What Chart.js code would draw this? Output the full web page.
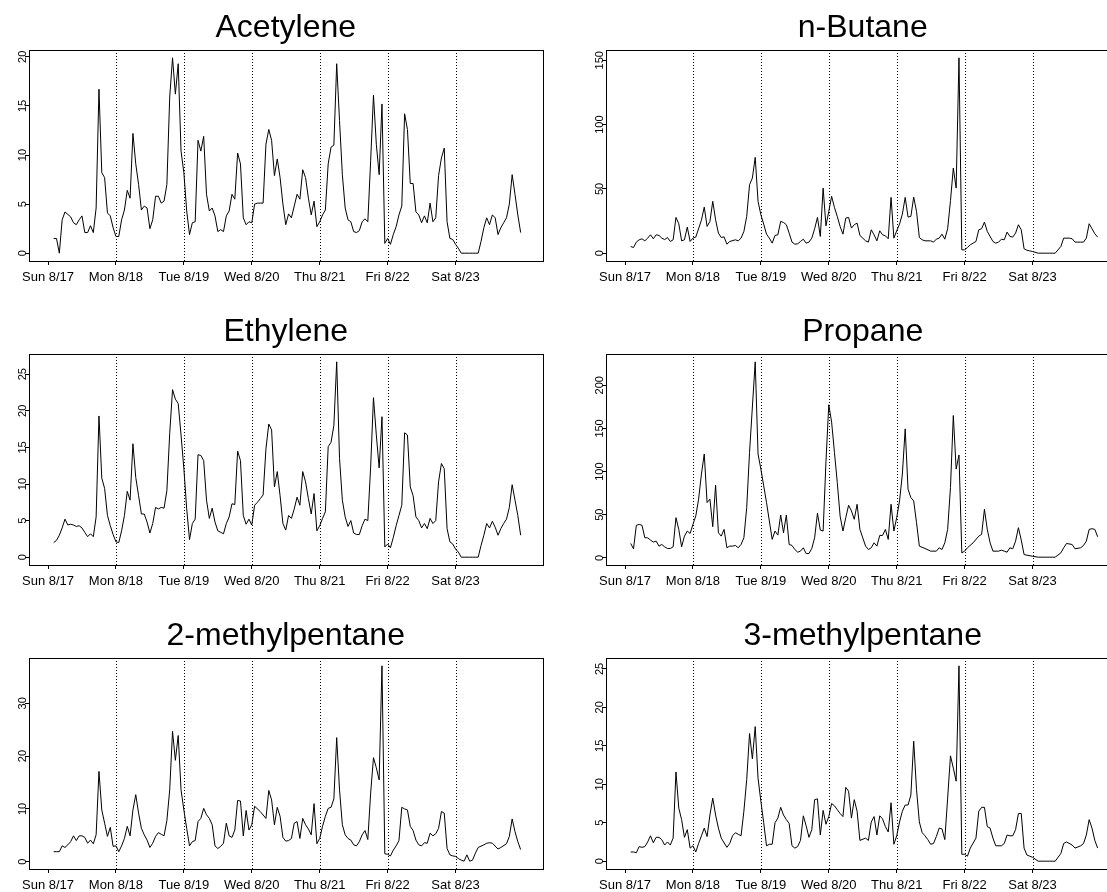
<!DOCTYPE html>
<html>
<head>
<meta charset="utf-8">
<script src="https://cdn.jsdelivr.net/npm/chart.js@4.4.1/dist/chart.umd.min.js"></script>
<style>
  html, body { margin: 0; padding: 0; background: #fff; }
  body { width: 1107px; height: 892px; overflow: hidden; position: relative; }
  .panel { position: absolute; width: 576px; height: 304px; }
</style>
</head>
<body>
<div class="panel" style="left:0;top:0"><canvas id="c0" width="576" height="304"></canvas></div>
<div class="panel" style="left:577px;top:0"><canvas id="c1" width="576" height="304"></canvas></div>
<div class="panel" style="left:0;top:304px"><canvas id="c2" width="576" height="304"></canvas></div>
<div class="panel" style="left:577px;top:304px"><canvas id="c3" width="576" height="304"></canvas></div>
<div class="panel" style="left:0;top:608px"><canvas id="c4" width="576" height="304"></canvas></div>
<div class="panel" style="left:577px;top:608px"><canvas id="c5" width="576" height="304"></canvas></div>
<script>
// hours since Sun 8/17 00:00, one reading per hour (index = hour)
const hourSpan = [0, 168];
const dayTicks = [0, 24, 48, 72, 96, 120, 144];
const dayLabels = ['Sun 8/17', 'Mon 8/18', 'Tue 8/19', 'Wed 8/20', 'Thu 8/21', 'Fri 8/22', 'Sat 8/23'];
const dayLines = [24, 48, 72, 96, 120, 144];

const acetylene = [
  null, null, 1.5, 1.5, 0, 3.4, 4.2, null, 3.7, 3.1,
  2.9, 3.4, 3.8, 2.1, 2.1, 2.8, 2.1, 4.6, 16.7, 8.2,
  7.7, 4.1, 3.8, 2.6, 1.7, 1.7, 3.4, 4.4, 6.4, 5.6,
  12.2, 9.1, 7.0, 4.4, 4.8, 4.6, 2.5, 3.4, 5.8, 5.8,
  5.1, 5.3, 7.0, 15.9, 19.9, 16.2, 19.3, 10.4, 8.2, 4.3,
  1.9, 3.1, 3.2, 11.5, 10.4, 11.9, 6.0, 4.3, 4.6, 3.8,
  2.2, 2.4, 2.2, 3.8, 4.3, 6.0, 5.5, 10.2, 9.1, 3.6,
  2.9, 3.2, 3.1, 5.0, 5.1, 5.1, 5.1, 11.1, 12.6, 11.5,
  7.9, 9.6, 7.7, 5.0, 2.9, 4.0, 3.6, 4.8, 6.0, 5.5,
  8.5, 7.7, 5.6, 3.9, 5.3, 2.7, 3.2, 3.9, 4.4, 9.1,
  10.8, 11.0, 19.3, 13.5, 8.0, 4.6, 3.4, 3.2, 2.2, 2.1,
  2.3, 3.2, 3.5, 3.2, 9.4, 16.1, 11.1, 8.0, 15.2, 1.0,
  1.5, 0.9, 1.9, 2.7, 3.9, 4.8, 14.2, 12.6, 7.1, 7.1,
  4.2, 3.9, 3.1, 3.8, 3.1, 5.1, 3.2, 3.6, 7.9, 9.7,
  10.7, 3.2, 1.5, 1.4, 0.9, 0.5, 0, 0, 0, 0,
  0, 0, 0, 1.2, 2.6, 3.6, 2.9, 3.9, 3.6, 1.9,
  2.6, 3.1, 3.6, 5.0, 8.0, 6.0, 3.9, 2.1
];
const nButane = [
  null, null, 5.2, 4.4, 8.6, 10.4, 11.2, 9.6, 11.7, 14.3,
  11.2, 14.3, 13.8, 11.7, 10.6, 12.2, 9.1, 10.4, 27.8, 22.9,
  9.6, 10.4, 20.3, 9.1, 11.7, 12.5, null, 25.7, 35.8, 20.8,
  24.7, 40.3, 26.0, 15.6, 12.2, 12.7, 7.0, 9.1, null, 10.4,
  9.6, 11.7, 16.9, 28.6, 53.2, 58.4, 74.5, 40.3, 29.9, 22.6,
  14.8, 11.7, 7.8, 13.8, 14.3, 24.7, 23.9, 22.1, 15.6, 8.6,
  7.0, 7.3, 9.1, 10.9, 7.8, 8.6, 11.7, 19.0, 27.8, 13.0,
  50.6, 21.3, 32.5, 44.2, 35.6, 28.6, 20.8, 14.8, 27.3, 27.8,
  19.5, 22.1, 23.4, 13.8, null, 9.6, 8.6, 18.2, 14.3, 9.6,
  17.4, 14.3, 13.5, 11.2, 43.4, 11.7, 17.4, 22.6, 30.4, 43.4,
  28.1, 28.6, 43.6, 32.5, 12.2, 10.4, 9.6, null, 9.6, 8.6,
  10.9, 11.7, 14.8, 10.9, 19.0, 40.8, 66.2, 50.6, 151.9, 2.6,
  2.6, 4.4, 6.5, null, 9.1, 18.2, 19.0, 24.2, 16.9, null,
  9.1, 7.8, 8.6, 10.9, 10.4, 16.4, 13.0, 12.5, 15.6, 22.1,
  18.2, 3.4, 2.3, 1.8, 1.3, null, 0, 0, 0, 0,
  0, 0, 0, null, 5.2, 11.7, null, 11.7, 11.2, 8.6,
  8.6, 8.6, 8.6, 11.7, 22.9, 19.0, 15.1, 12.5
];
const ethylene = [
  null, null, 2.0, 2.3, 3.0, 4.0, 5.2, 4.4, 4.5, 4.4,
  4.2, 4.3, 4.0, 3.4, 2.8, 3.2, 2.8, 5.5, 19.3, 10.8,
  9.4, 5.7, 4.3, 3.1, 2.1, 2.0, 3.6, 5.7, 9.0, 7.8,
  15.5, 10.9, 8.4, 5.9, 5.9, 4.8, 3.3, 4.6, 6.8, 6.6,
  6.8, 6.7, 9.1, 16.9, 22.9, 21.6, 21.0, 16.7, 12.1, 6.6,
  2.4, 4.6, 5.2, 14.0, 13.9, 13.2, 7.8, 5.3, 6.7, 4.8,
  3.6, 3.4, 3.2, 4.6, 5.5, 7.3, 7.2, 14.5, 13.2, 5.7,
  4.5, 5.2, 4.4, 7.1, 7.5, 8.0, 8.5, 14.8, 18.2, 17.4,
  9.6, 11.7, 8.4, 4.6, 3.7, 5.7, 5.3, 6.6, 8.2, 7.1,
  11.7, 10.3, 8.0, 5.9, 8.7, 3.6, 4.3, 5.3, 6.2, 15.1,
  15.7, 18.0, 26.7, 13.5, 7.8, 5.5, 4.2, 5.0, 3.3, 3.1,
  3.1, 4.3, 5.2, 5.0, 12.3, 21.8, 16.7, 12.2, 19.2, 1.4,
  1.8, 1.3, 2.7, 4.3, 5.7, 7.1, 17.0, 16.7, 9.6, 8.4,
  5.5, 5.0, 4.0, 4.6, 3.9, 5.3, 4.6, 5.0, 10.3, 12.8,
  12.1, 3.9, 2.1, 1.8, 1.1, 0.7, 0, 0, 0, 0,
  0, 0, 0, 1.6, 3.0, 4.6, 4.0, 4.9, 4.1, 3.0,
  3.9, 4.6, 5.2, 6.8, 9.9, 7.8, 5.7, 3.0
];
const propane = [
  null, null, 16.7, 10.5, 37.7, 38.8, 37.7, 23.3, 23.3, 20.6,
  18.3, 19.4, 13.6, 15.5, 12.8, 10.9, 10.9, 12.8, 46.6, 33.0,
  12.8, 25.2, 31.1, 28.3, 38.8, 48.5, 68.0, 97.1, 120.4, 64.1,
  68.0, 36.1, 84.3, 29.1, 25.2, 33.0, 11.7, 13.6, 13.6, 14.4,
  11.7, 15.5, 23.3, 58.3, 122.3, null, 227.2, 120.4, 102.9, 83.5,
  64.1, 42.7, 21.4, 31.1, 26.4, 49.7, 29.1, 49.7, 15.5, 14.4,
  9.7, 6.6, 7.8, 11.7, 5.0, 5.0, 10.9, 23.3, 51.7, 32.2,
  31.1, 111.5, 177.5, 157.3, 122.3, 87.4, 48.5, 31.1, 46.6, 61.0,
  54.4, 44.7, 62.1, 33.0, null, 13.6, 9.7, 11.7, 17.5, 13.6,
  26.0, 26.0, 33.0, 21.4, 62.1, 31.1, 46.6, 66.0, 97.1, 149.5,
  79.6, 69.9, 66.0, 40.8, 13.6, null, 10.9, null, 7.8, null,
  7.8, 11.7, 9.7, 17.5, 33.0, 81.6, 165.0, 102.9, 119.2, 5.8,
  7.8, 11.7, null, 17.5, null, 25.2, 27.2, 56.3, 33.0, 17.5,
  7.8, null, 7.8, 8.9, 7.8, 6.6, 11.7, 10.5, 19.4, 35.0,
  20.6, 3.9, 3.1, null, 1.9, null, 0.8, 0.8, 0.8, 0.8,
  0.8, 0.8, 0.8, null, 5.8, 11.7, 16.7, null, 15.5, 10.5,
  null, 11.7, 14.4, 19.4, 33.0, 33.8, 33.0, 24.5
];
const methylpentane2 = [
  null, null, 1.9, 1.9, 1.9, 3.0, 2.7, 3.2, 3.8, 4.9,
  4.0, 4.9, 4.9, 4.6, 3.5, 4.1, 3.4, 5.1, 17.1, 9.8,
  7.3, 4.8, 6.5, 2.9, 3.0, 1.9, 3.0, 4.4, 6.7, 4.9,
  9.8, 12.7, 9.2, 6.3, 5.1, 4.1, 2.7, 3.5, 4.8, 5.5,
  5.2, 4.9, 7.8, 13.6, 24.7, 19.2, 23.9, 13.6, 9.8, 6.3,
  3.0, 3.8, 4.0, 7.6, 8.2, 10.1, 8.9, 8.2, 7.0, 3.0,
  2.5, 2.9, 3.5, 7.3, 4.9, 4.6, 6.0, 11.6, 11.5, 4.9,
  9.7, 6.0, 7.0, 10.5, null, 9.5, null, 8.2, 13.5, 11.7,
  7.0, 10.3, 8.6, 4.6, 3.9, 4.0, 4.4, 7.3, 7.6, 4.4,
  8.2, 7.0, 6.2, 5.1, 11.0, 3.4, 4.4, 6.7, 8.6, 10.1,
  10.3, 11.9, 23.5, 13.6, 7.0, 5.1, 4.4, 4.1, 3.2, 3.0,
  3.8, 5.1, 5.9, 4.2, 13.0, 19.7, 17.8, 15.5, 37.1, 1.5,
  1.4, 1.1, 2.2, 3.0, 4.0, 10.3, 10.0, 9.8, 6.7, 5.9,
  4.1, 3.2, 3.0, 3.6, 3.5, 5.4, 4.9, 5.3, 6.3, 9.5,
  9.2, 2.5, 1.3, 1.1, 1.0, 0.6, 0.3, 0.1, 1.3, 0.1,
  0.3, 1.6, 2.7, null, 3.2, 3.5, 3.6, 3.5, null, 2.4,
  2.7, null, 3.4, 4.8, 8.1, 5.7, 3.8, 2.3
];
const methylpentane3 = [
  null, null, 1.2, 1.2, 1.1, 1.9, 1.8, 1.9, 2.5, 3.3,
  2.4, 3.1, 3.1, 2.8, 2.1, 2.5, 2.1, 3.0, 11.6, 6.9,
  5.4, 3.1, 4.1, 1.7, 2.0, 1.2, 2.3, 3.3, 4.3, 3.2,
  6.0, 8.2, 6.0, 4.3, 3.0, null, 1.8, 2.3, 3.3, 3.7,
  3.5, 3.3, 6.5, 10.6, 16.6, 13.3, 17.5, 10.8, 7.8, 5.0,
  2.0, 2.2, 2.2, 5.0, 5.6, 7.0, 6.0, 5.4, 4.9, 2.0,
  1.7, 1.9, 2.7, 5.9, 4.6, 3.1, 4.1, 8.0, 8.1, 3.4,
  6.6, 4.8, 5.8, 7.5, 7.2, 6.7, 6.2, 5.8, 9.6, 9.1,
  5.6, 8.0, 6.5, 2.7, null, 3.0, 2.7, 5.1, 5.8, 3.4,
  5.9, 5.5, 4.5, 3.8, 7.6, 2.2, 3.3, 5.1, 6.5, 7.3,
  7.3, 8.6, 15.6, 9.3, 5.1, 3.7, 3.3, 2.8, 2.2, 2.3,
  3.2, 4.3, 4.2, 2.8, 8.2, 13.7, 12.1, 10.4, 25.4, 0.9,
  0.9, 0.65, 1.7, null, 3.0, 6.5, 7.0, 7.0, 4.5, 4.3,
  3.0, 2.0, null, 2.0, 2.3, 3.4, 3.3, 3.3, 4.1, 6.2,
  6.2, 1.7, 0.8, 0.65, 0.5, null, 0, 0, 0, 0,
  0, 0, 0, null, 1.0, 2.3, 2.5, null, 2.1, 1.7,
  null, 2.0, 2.3, 3.4, 5.4, 4.3, 2.7, 1.7
];

const acetyleneTicks = [0, 5, 10, 15, 20];
const nButaneTicks = [0, 50, 100, 150];
const ethyleneTicks = [0, 5, 10, 15, 20, 25];
const propaneTicks = [0, 50, 100, 150, 200];
const methylpentane2Ticks = [0, 10, 20, 30];
const methylpentane3Ticks = [0, 5, 10, 15, 20, 25];

const panels = [
  { id: 'c0', title: 'Acetylene', values: acetylene, ticks: acetyleneTicks },
  { id: 'c1', title: 'n-Butane', values: nButane, ticks: nButaneTicks },
  { id: 'c2', title: 'Ethylene', values: ethylene, ticks: ethyleneTicks },
  { id: 'c3', title: 'Propane', values: propane, ticks: propaneTicks },
  { id: 'c4', title: '2-methylpentane', values: methylpentane2, ticks: methylpentane2Ticks },
  { id: 'c5', title: '3-methylpentane', values: methylpentane3, ticks: methylpentane3Ticks }
];

const fontFamily = '"Liberation Sans", Arial, Helvetica, sans-serif';
const yFont = 11;

// R style limits: data range widened by 4% on each side
function padRange(lo, hi) {
  const d = (hi - lo) * 0.04;
  return [lo - d, hi + d];
}

// dotted day lines and the box around the plot
const framePlugin = {
  id: 'frame',
  afterDatasetsDraw(chart) {
    const { ctx, chartArea: a, scales: { x } } = chart;
    ctx.save();
    ctx.strokeStyle = '#000';
    ctx.lineWidth = 1;
    ctx.setLineDash([1, 2]);
    dayLines.forEach(h => {
      const px = Math.round(x.getPixelForValue(h)) + 0.5;
      ctx.beginPath();
      ctx.moveTo(px, a.top);
      ctx.lineTo(px, a.bottom);
      ctx.stroke();
    });
    ctx.setLineDash([]);
    ctx.strokeRect(Math.round(a.left) + 0.5, Math.round(a.top) + 0.5,
      Math.round(a.right - a.left), Math.round(a.bottom - a.top));
    ctx.restore();
  }
};

function drawPanel(p) {
  const vals = p.values.filter(v => v !== null);
  const yr = padRange(Math.min(...vals), Math.max(...vals));
  const xr = padRange(hourSpan[0], hourSpan[1]);
  const digits = String(Math.max(...p.ticks)).length;

  new Chart(document.getElementById(p.id), {
    type: 'line',
    data: {
      datasets: [{
        data: p.values.map((v, i) => ({ x: i, y: v })),
        borderColor: '#000',
        borderWidth: 1,
        pointRadius: 0,
        tension: 0,
        spanGaps: true
      }]
    },
    options: {
      responsive: false,
      animation: false,
      devicePixelRatio: 1,
      layout: { padding: { left: 0, right: 33.5, top: 0, bottom: 0 } },
      plugins: {
        legend: { display: false },
        tooltip: { enabled: false },
        title: {
          display: true,
          text: p.title,
          fullSize: false,
          color: '#000',
          font: { family: fontFamily, size: 32, weight: 'normal', lineHeight: 1.2 },
          padding: { top: 9, bottom: 2.6 }
        }
      },
      scales: {
        x: {
          type: 'linear',
          min: xr[0],
          max: xr[1],
          afterBuildTicks: s => { s.ticks = dayTicks.map(v => ({ value: v })); },
          afterFit: s => { s.height = 43; },
          border: { display: false },
          grid: { drawOnChartArea: false, drawTicks: true, tickLength: 4, color: '#000' },
          ticks: {
            autoSkip: false,
            maxRotation: 0,
            padding: 5,
            color: '#000',
            font: { family: fontFamily, size: 13 },
            callback: (v, i) => dayLabels[i]
          }
        },
        y: {
          type: 'linear',
          min: yr[0],
          max: yr[1],
          afterBuildTicks: s => { s.ticks = p.ticks.map(v => ({ value: v })); },
          afterFit: s => { s.width = 29; },
          border: { display: false },
          grid: { drawOnChartArea: false, drawTicks: true, tickLength: 4, color: '#000' },
          ticks: {
            minRotation: 90,
            maxRotation: 90,
            crossAlign: 'center',
            padding: 2 - digits * 0.556 * yFont / 2,
            color: '#000',
            font: { family: fontFamily, size: yFont }
          }
        }
      }
    },
    plugins: [framePlugin]
  });
}

panels.forEach(drawPanel);
</script>
</body>
</html>
